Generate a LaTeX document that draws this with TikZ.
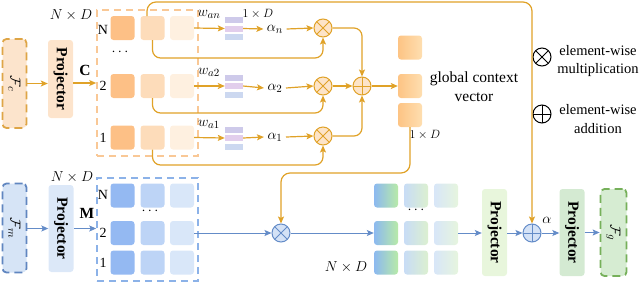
\documentclass[tikz,border=0pt]{standalone}
\usepackage{fontspec}
\setmainfont{Liberation Serif}
\usetikzlibrary{arrows.meta}
\definecolor{oline}{RGB}{224,162,40}
\definecolor{fcfill}{RGB}{252,228,204}
\definecolor{fcdraw}{RGB}{222,165,70}
\definecolor{pcfill}{RGB}{253,228,204}
\definecolor{cboxd}{RGB}{249,200,150}
\definecolor{ca}{RGB}{253,192,134}
\definecolor{cb}{RGB}{253,220,186}
\definecolor{cc}{RGB}{254,240,224}
\definecolor{wa}{RGB}{206,202,234}
\definecolor{wb}{RGB}{226,206,236}
\definecolor{wc}{RGB}{204,216,240}
\definecolor{otfill}{RGB}{253,228,200}
\definecolor{va}{RGB}{253,196,132}
\definecolor{vb}{RGB}{254,222,176}
\definecolor{ma}{RGB}{148,185,242}
\definecolor{mb}{RGB}{189,212,246}
\definecolor{mc}{RGB}{217,231,249}
\definecolor{mboxd}{RGB}{140,178,232}
\definecolor{fmfill}{RGB}{214,228,246}
\definecolor{fmdraw}{RGB}{96,134,192}
\definecolor{pmfill}{RGB}{220,232,248}
\definecolor{bline}{RGB}{100,140,200}
\definecolor{obfill}{RGB}{212,226,246}
\definecolor{oa1}{RGB}{140,185,240}
\definecolor{oa2}{RGB}{184,234,168}
\definecolor{ob1}{RGB}{200,220,246}
\definecolor{ob2}{RGB}{220,240,208}
\definecolor{oc1}{RGB}{216,230,248}
\definecolor{oc2}{RGB}{230,245,222}
\definecolor{pgfill}{RGB}{232,246,220}
\definecolor{pg2fill}{RGB}{212,234,210}
\definecolor{fgfill}{RGB}{214,236,210}
\definecolor{fgdraw}{RGB}{118,176,90}
\begin{document}
\begin{tikzpicture}[x=1pt,y=-1pt,
  font=\fontsize{15.5}{19}\selectfont,
  cell/.style={minimum width=24, minimum height=24, rounded corners=3, inner sep=0},
  projbox/.style={minimum width=25, minimum height=78, rounded corners=3, inner sep=0, font=\fontsize{15.5}{18}\selectfont\bfseries},
  dashbox/.style={line width=1.6, dash pattern=on 7pt off 5pt, inner sep=0},
  featbox/.style={minimum width=24, minimum height=89, rounded corners=4, inner sep=0, line width=1.8, dash pattern=on 8pt off 5pt},
  oarrow/.style={draw=oline, line width=1.2, -{Stealth[length=7pt,width=6pt,inset=1.5pt]}},
  barrow/.style={draw=bline, line width=1, -{Stealth[length=7pt,width=6pt,inset=1.5pt]}},
  otimesnode/.style={circle, minimum size=18, inner sep=0, line width=1,
    path picture={\draw[line width=1] (path picture bounding box.north west)--(path picture bounding box.south east)
      (path picture bounding box.south west)--(path picture bounding box.north east);}},
  oplusnode/.style={circle, minimum size=18, inner sep=0, line width=1,
    path picture={\draw[line width=1] (path picture bounding box.north)--(path picture bounding box.south)
      (path picture bounding box.west)--(path picture bounding box.east);}},
  wblock/.style={minimum width=18, minimum height=23, inner sep=0,
    path picture={
      \fill[wa] (path picture bounding box.north west) rectangle ++(18,6);
      \fill[wb] ([yshift=-8.5pt]path picture bounding box.north west) rectangle ++(18,6);
      \fill[wc] ([yshift=-17pt]path picture bounding box.north west) rectangle ++(18,6);}},
  small/.style={font=\fontsize{11.5}{13}\selectfont},
  rowlab/.style={font=\fontsize{14}{16}\selectfont},
  legtext/.style={align=center, inner sep=0, font=\fontsize{14.5}{18.5}\selectfont}
]
\useasboundingbox (0,0) rectangle (640,282);

% ---------- top branch ----------
\node[featbox, draw=fcdraw, fill=fcfill] (Fc) at (14.5,83.5) {\rotatebox{-90}{$\mathcal{F}_c$}};
\node[projbox, fill=pcfill] (pc) at (60.5,79) {\rotatebox{-90}{Projector}};
\node[dashbox, draw=cboxd, minimum width=101, minimum height=146] (Cbox) at (147.5,83) {};
\node (NDc) at (71,15) {$N\times D$};
\node (Clab) at (85,70) {$\mathbf{C}$};

\foreach \r/\y in {N/28,2/86,1/137.5}{
  \node[cell, fill=ca] (c\r1) at (122.5,\y) {};
  \node[cell, fill=cb] (c\r2) at (152.5,\y) {};
  \node[cell, fill=cc] (c\r3) at (182,\y) {};
}
\node[rowlab] (rN) at (103,30) {N};
\node[rowlab] (r2) at (103,86) {2};
\node[rowlab] (r1) at (103,137.5) {1};
\node (cdots) at (120,52) {$\cdots$};

% weights
\node[wblock] (wN) at (234,28.5) {};
\node[wblock] (w2) at (234,86) {};
\node[wblock] (w1) at (234,138) {};
\node (lwN) at (209,14) {$w_{an}$};
\node (lw2) at (209,72) {$w_{a2}$};
\node (lw1) at (209,124) {$w_{a1}$};
\node[small] (oneD) at (258,14) {$1\times D$};
\node (aN) at (275,29) {$\alpha_n$};
\node (a2) at (275,88) {$\alpha_2$};
\node (a1) at (275,137) {$\alpha_1$};
\node[otimesnode, draw=oline, fill=otfill] (otN) at (323,28) {};
\node[otimesnode, draw=oline, fill=otfill] (ot2) at (323,86) {};
\node[otimesnode, draw=oline, fill=otfill] (ot1) at (323,136) {};
\node[oplusnode, draw=oline, fill=otfill] (opl) at (362,86) {};

\node[cell, left color=va, right color=vb] (v1) at (410,47.5) {};
\node[cell, left color=va, right color=vb] (v2) at (410,86) {};
\node[cell, left color=va, right color=vb] (v3) at (410,115) {};
\node[align=center] (gcv) at (474,87) {global context\\vector};
\node[small] (oneD2) at (425,135) {$1\times D$};

% top arrows
\draw[oarrow] (Fc.east) -- (Fc.east -| pc.west);
\draw[oarrow] (pc.east |- Cbox.west) -- (Cbox.west);
\foreach \r in {N,2,1}{
  \draw[oarrow] (c\r3.east) -- (w\r.west);
  \draw[oarrow] (w\r.east) -- (a\r.west);
  \draw[oarrow] (a\r.east) -- (ot\r.west);
}
\coordinate (bN) at (250,58);
\coordinate (b2) at (250,113);
\coordinate (b1) at (250,165);
\draw[oarrow, rounded corners=8] (cN2.south) |- (bN) -| (otN.south);
\draw[oarrow, rounded corners=8] (c22.south) |- (b2) -| (ot2.south);
\draw[oarrow, rounded corners=8] (c12.south) |- (b1) -| (ot1.south);
\draw[oarrow, rounded corners=8] (otN.east) -| (opl.north);
\draw[oarrow, rounded corners=8] (ot1.east) -| (opl.south);
\draw[oarrow] (ot2.east) -- (opl.west);
\draw[oarrow] (opl.east) -- (v2.west);

% ---------- legend ----------
\node[otimesnode, draw=black, fill=white] (lgx) at (542,57) {};
\node[oplusnode, draw=black, fill=white] (lgp) at (542,114) {};
\node[legtext] (lgxt) at (598,61) {element-wise\\multiplication};
\node[legtext] (lgpt) at (598,119) {element-wise\\addition};

% ---------- bottom branch ----------
\node[featbox, draw=fmdraw, fill=fmfill] (Fm) at (14.5,228) {\rotatebox{-90}{$\mathcal{F}_m$}};
\node[projbox, fill=pmfill, minimum height=87] (pm) at (61,228.5) {\rotatebox{-90}{Projector}};
\node[dashbox, draw=mboxd, minimum width=101, minimum height=103] (Mbox) at (147.5,229.5) {};
\node (NDm) at (72,177) {$N\times D$};
\node (Mlab) at (87,213) {$\mathbf{M}$};
\foreach \r/\y in {N/195.5,2/233,1/262.5}{
  \node[cell, fill=ma] (m\r1) at (122.5,\y) {};
  \node[cell, fill=mb] (m\r2) at (152.5,\y) {};
  \node[cell, fill=mc] (m\r3) at (182,\y) {};
  \node[cell, left color=oa1, right color=oa2] (o\r1) at (386,\y) {};
  \node[cell, left color=ob1, right color=ob2] (o\r2) at (416,\y) {};
  \node[cell, left color=oc1, right color=oc2] (o\r3) at (446,\y) {};
}
\node[rowlab] (mrN) at (103,195) {N};
\node[rowlab] (mr2) at (103,233) {2};
\node[rowlab] (mr1) at (103,263) {1};
\node (mdots) at (150,211) {$\cdots$};
\node (odots) at (416,210) {$\cdots$};
\node (NDo) at (346,267) {$N\times D$};

\node[otimesnode, draw=bline, fill=obfill] (otB) at (281,233) {};
\node[oplusnode, draw=bline, fill=obfill] (oplB) at (532,233) {};
\node[projbox, fill=pgfill, minimum height=87] (pg) at (494.5,232.5) {\rotatebox{-90}{Projector}};
\node[projbox, fill=pg2fill, minimum height=87] (pg2) at (572,232.5) {\rotatebox{-90}{Projector}};
\node[featbox, draw=fgdraw, fill=fgfill, minimum width=26, minimum height=87] (Fg) at (613.5,232.5) {\rotatebox{-90}{$\mathcal{F}_g$}};
\node (alab) at (547,220) {$\alpha$};

\draw[barrow] (Fm.east |- pm.west) -- (pm.west);
\draw[barrow] (pm.east) -- (pm.east -| Mbox.west);
\draw[barrow] (m23.east) -- (otB.west);
\draw[barrow] (otB.east) -- (o21.west);
\draw[barrow] (o23.east) -- (pg.west |- o23.east);
\draw[barrow] (pg.east |- oplB.west) -- (oplB.west);
\draw[barrow] (oplB.east) -- (oplB.east -| pg2.west);
\draw[barrow] (pg2.east) -- (Fg.west);

% cross connections
\coordinate (topstart) at (147,16);
\coordinate (toprow) at (400,2);
\draw[oarrow, rounded corners=9] (topstart) |- (toprow) -| (oplB.north);
\coordinate (midrow) at (350,173);
\draw[oarrow, rounded corners=9] (v3.south) |- (midrow) -| (otB.north);
\end{tikzpicture}
\end{document}
